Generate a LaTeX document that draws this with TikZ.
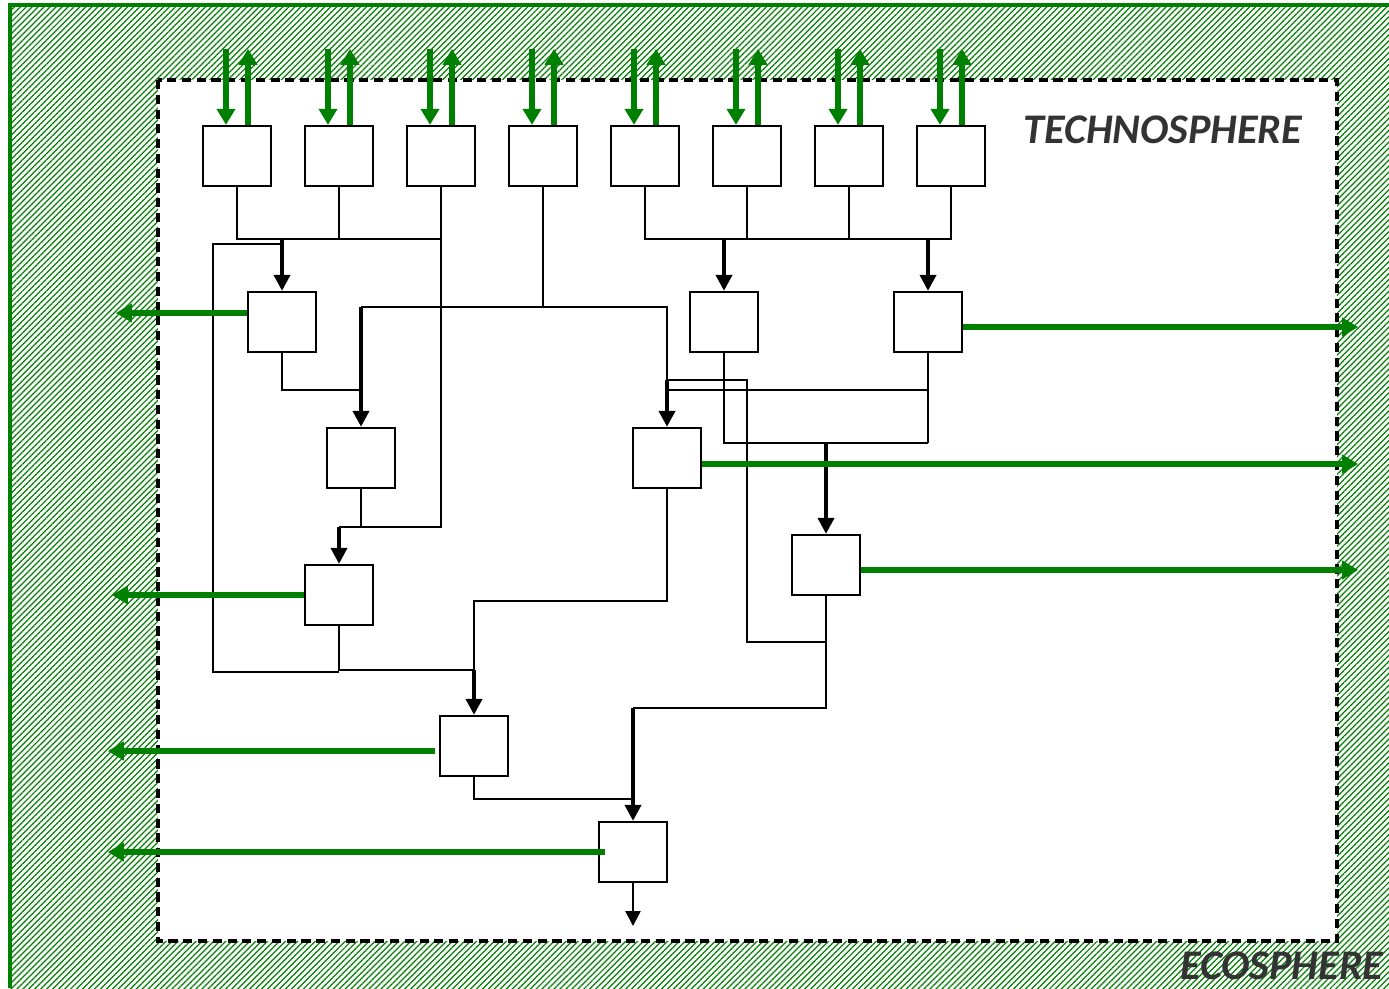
\documentclass[tikz,border=0pt]{standalone}
\usepackage{fontspec}
\setsansfont{Carlito}
\usetikzlibrary{arrows.meta,patterns.meta}
\definecolor{ecogreen}{RGB}{0,128,0}
\definecolor{labelgray}{RGB}{51,51,51}

\begin{document}
\begin{tikzpicture}[x=0.01cm,y=-0.01cm,
  proc/.style={draw, line width=0.65pt, fill=white, minimum width=0.68cm, minimum height=0.6cm, inner sep=0pt},
  link/.style={line width=0.7pt},
  feed/.style={line width=1.1pt, -{Triangle[length=0.16cm,width=0.16cm]}},
  emis/.style={ecogreen, line width=1.5pt, -{Triangle[length=0.16cm,width=0.18cm]}},
  sphere/.style={font=\sffamily\bfseries\itshape\fontsize{12}{14}\selectfont, text=labelgray, inner sep=0pt}]
\useasboundingbox (0,0) rectangle (1389,988);
% ecosphere: hatched frame
\fill[white] (0,0) rectangle (1389,988);
\fill[pattern={Lines[angle=45,distance=1.2pt,line width=0.35pt]}, pattern color=ecogreen] (10,5) rectangle (1389,988);
\draw[ecogreen, line width=0.9pt] (10,988) -- (10,5) -- (1389,5);
% technosphere: dashed box
\draw[line width=0.9pt, dash pattern=on 2.6pt off 1.6pt, fill=white] (158,80) rectangle (1337,941);
\node[sphere, anchor=east] (techno) at (1303,130) {TECHNOSPHERE};
\node[sphere, anchor=east] (eco) at (1384,966) {ECOSPHERE};

% processes
\foreach \i in {1,...,8}
  \node[proc] (t\i) at ({135+102*\i},156) {};
\node[proc] (a) at (282,322) {};
\node[proc] (b) at (361,458) {};
\node[proc] (c) at (339,595) {};
\node[proc] (d) at (474,746) {};
\node[proc] (e) at (633,852) {};
\node[proc] (r1) at (724,322) {};
\node[proc] (r2) at (928,322) {};
\node[proc] (m1) at (667,458) {};
\node[proc] (m2) at (826,565) {};
\coordinate (loop) at (213,244);
\coordinate (bypass) at (747,642);
\coordinate (out) at (633,926);

% exchanges with the ecosphere, top
\foreach \i in {1,...,8} {
  \draw[emis] ([xshift=-0.11cm]t\i.north) ++(0,-76) -- ([xshift=-0.11cm]t\i.north);
  \draw[emis] ([xshift=0.11cm]t\i.north) -- ++(0,-76);
}

% left chain
\draw[link] (t1.south) |- (t3.south |- 0,239);
\draw[link] (t2.south) -- (t2.south |- 0,239);
\draw[link] (t3.south) |- (c.north |- 0,527);
\draw[link] (b.south) -- (b.south |- 0,527);
\draw[feed] (a.north |- 0,239) -- (a.north);
\draw[feed] (c.north |- 0,527) -- (c.north);
\draw[link] (t4.south) -- (t4.south |- 0,307);
\draw[link] (b.north |- 0,307) -- (m1.north |- 0,307) -- (m1.north |- 0,380);
\draw[feed] (b.north |- 0,307) -- (b.north);
\draw[link] (a.south) |- (b.north |- 0,390);
\draw[link] (c.south |- 0,672) -| (loop) -- (loop -| a.north);
\draw[link] (c.south) |- (d.north |- 0,670);
\draw[link] (m1.south) |- (d.north |- 0,601) -- (d.north |- 0,670);
\draw[feed] (d.north |- 0,670) -- (d.north);

% right chain
\draw[link] (t5.south) |- (t8.south |- 0,239) -- (t8.south);
\foreach \i in {6,7}
  \draw[link] (t\i.south) -- (t\i.south |- 0,239);
\draw[feed] (r1.north |- 0,239) -- (r1.north);
\draw[feed] (r2.north |- 0,239) -- (r2.north);
\draw[link] (r2.south) |- (m1.north |- 0,390);
\draw[link] (r1.south) |- (r2.south |- 0,443);
\draw[link] (r2.south) -- (r2.south |- 0,443);
\draw[feed] (m2.north |- 0,443) -- (m2.north);
\draw[link] (m2.south) |- (bypass) |- (m1.north |- 0,380);
\draw[feed] (m1.north |- 0,380) -- (m1.north);
\draw[link] (m2.south) |- (e.north |- 0,708);
\draw[feed] (e.north |- 0,708) -- (e.north);
\draw[link] (d.south) |- (e.north |- 0,799);
\draw[link, -{Triangle[length=0.15cm,width=0.15cm]}] (e.south) -- (out);

% emissions to the ecosphere, sides
\draw[emis] (a.west |- 0,313) -- +(-131,0);
\draw[emis] (c.west) -- +(-192,0);
\draw[emis] ([shift={(-4,5)}]d.west) -- +(-327,0);
\draw[emis] ([xshift=0.07cm]e.west) -- +(-497,0);
\draw[emis] (r2.east |- 0,327) -- +(395,0);
\draw[emis] (m1.east |- 0,464) -- +(656,0);
\draw[emis] (m2.east |- 0,570) -- +(497,0);
\end{tikzpicture}
\end{document}
